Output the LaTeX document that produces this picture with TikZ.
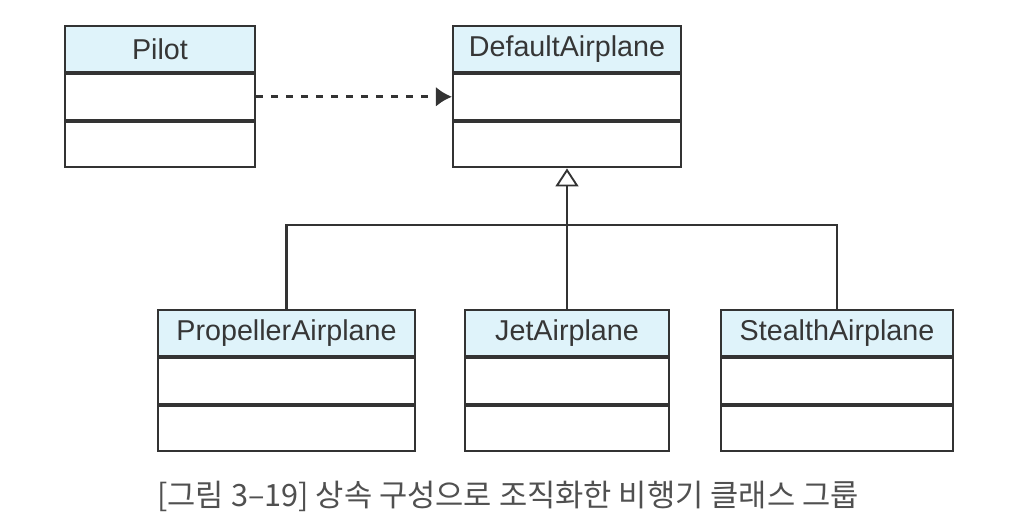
\documentclass[tikz,border=0pt]{standalone}
\usepackage{fontspec}
\usepackage{tikz}
\usetikzlibrary{shapes,arrows.meta,positioning}
\newfontfamily\umlfont{Liberation Sans}
\newfontfamily\cjk{Noto Sans CJK KR}
\definecolor{headblue}{HTML}{DFF3FA}
\definecolor{linegray}{HTML}{333333}
\definecolor{textgray}{HTML}{363636}
\definecolor{capgray}{HTML}{505050}

\begin{document}
\begin{tikzpicture}
				[
					x=0.03cm, y=-0.03cm,
					classhead/.style={rectangle, draw=linegray, fill=headblue, line width=1.8pt, minimum height=1.37cm, inner sep=0pt, text=textgray, font=\umlfont\fontsize{24.5}{28}\selectfont},
					classbody/.style={rectangle, draw=linegray, fill=white, line width=1.8pt, minimum height=1.37cm, inner sep=0pt},
					uses/.style={draw=linegray, line width=2.6pt, dash pattern=on 0.21cm off 0.24cm, -{Latex[length=0.48cm, width=0.6cm]}},
					inherits/.style={draw=linegray, line width=1.8pt, -{Triangle[open, length=0.54cm, width=0.69cm, line width=1.6pt]}},
					link/.style={draw=linegray, line width=1.8pt},
				]
				\useasboundingbox (0,0) rectangle (1032,531);

				\node [classhead, minimum width=5.7cm] (pilot) at (160,49) {Pilot};
				\node [classbody, minimum width=5.7cm] (pilotattr) [below=0pt of pilot] {};
				\node [classbody, minimum width=5.7cm] (pilotop) [below=0pt of pilotattr] {};

				\node [classhead, minimum width=6.84cm] (default) at (567,49) {DefaultAirplane};
				\node [classbody, minimum width=6.84cm] (defaultattr) [below=0pt of default] {};
				\node [classbody, minimum width=6.84cm] (defaultop) [below=0pt of defaultattr] {};

				\node [classhead, minimum width=7.71cm] (propeller) at (286.5,333) {PropellerAirplane};
				\node [classbody, minimum width=7.71cm] (propellerattr) [below=0pt of propeller] {};
				\node [classbody, minimum width=7.71cm] (propellerop) [below=0pt of propellerattr] {};

				\node [classhead, minimum width=6.12cm] (jet) at (567,333) {JetAirplane};
				\node [classbody, minimum width=6.12cm] (jetattr) [below=0pt of jet] {};
				\node [classbody, minimum width=6.12cm] (jetop) [below=0pt of jetattr] {};

				\node [classhead, minimum width=6.96cm] (stealth) at (837,333) {StealthAirplane};
				\node [classbody, minimum width=6.96cm] (stealthattr) [below=0pt of stealth] {};
				\node [classbody, minimum width=6.96cm] (stealthop) [below=0pt of stealthattr] {};

				\coordinate (bar) at (567,225);

				\draw[uses] (pilotattr.east) -- (defaultattr.west) ; 
				\draw[inherits] (jet.north) -- (defaultop.south) ; 
				\draw[link] (propeller.north) -- (propeller.north |- bar) -- (stealth.north |- bar) -- (stealth.north) ; 

				\node [text=capgray, font=\cjk\fontsize{26.2}{30}\selectfont] (caption) at (508,496) {[그림 3–19] 상속 구성으로 조직화한 비행기 클래스 그룹};

			\end{tikzpicture}
\end{document}
